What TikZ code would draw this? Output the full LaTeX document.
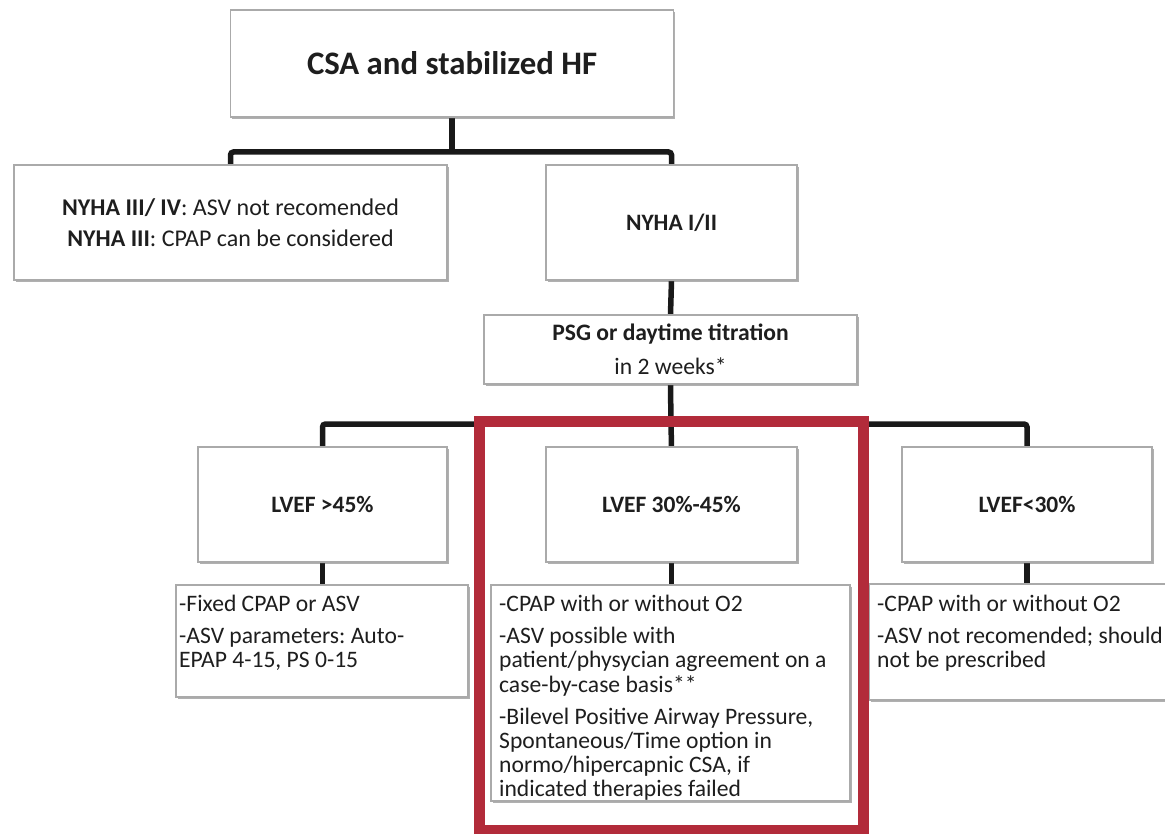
\documentclass[tikz,border=0pt]{standalone}
\usepackage{fontspec}
\setmainfont{Carlito}
\usetikzlibrary{shadows}
\definecolor{framered}{RGB}{178,43,58}
\definecolor{boxline}{RGB}{170,170,170}
\definecolor{ink}{RGB}{30,30,30}
\newcommand{\tightlines}{\lineskiplimit=-100pt\relax}
\frenchspacing
\begin{document}
\begin{tikzpicture}[x=1pt,y=-1pt,
  box/.style={draw=boxline, line width=1.2pt, fill=white, inner sep=0pt,
    drop shadow={shadow xshift=1.5pt, shadow yshift=-2pt, opacity=0.3, fill=black!60},
    text=ink, align=center},
  conn/.style={draw=black!90, line width=5.5pt, rounded corners=3pt},
  lbl/.style={font=\fontsize{24}{31}\selectfont},
  blbl/.style={font=\fontsize{23.5}{31}\selectfont\bfseries},
  note/.style={anchor=north west, inner sep=0pt, align=left, text=ink,
    font={\fontsize{23.6}{24.2}\selectfont\tightlines}},
  hilite/.style={draw=framered, line width=11pt}
]
\useasboundingbox (0,0) rectangle (1165,834);
\clip (0,0) rectangle (1165,834);

% junction points of the tree
\coordinate (j1) at (452,152);
\coordinate (j2) at (671,424);

% box outlines first, so the connectors can be placed by name
\node[box, minimum width=443pt, minimum height=107pt] (top) at (452,63.5) {};
\node[box, minimum width=433pt, minimum height=115pt] (nyhaA) at (230.5,222.5) {};
\node[box, minimum width=251pt, minimum height=115pt] (nyhaB) at (671.5,222.5) {};
\node[box, minimum width=373pt, minimum height=69pt] (psg) at (670.5,349.5) {};
\node[box, minimum width=249pt, minimum height=115pt] (lvA) at (322.5,504.5) {};
\node[box, minimum width=251pt, minimum height=115pt] (lvB) at (671.5,504.5) {};
\node[box, minimum width=250pt, minimum height=115pt] (lvC) at (1027,504.5) {};
\node[box, minimum width=292pt, minimum height=112pt] (thA) at (322,641) {};
\node[box, minimum width=359pt, minimum height=216pt] (thB) at (670.5,693) {};
\node[box, minimum width=311pt, minimum height=116pt] (thC) at (1024.5,642) {};

% connectors
\draw[conn] (top.south) -- (j1);
\draw[conn] (nyhaA.north) |- (j1) -| (nyhaB.north);
\draw[conn] (nyhaB.south) -- (psg.north);
\draw[conn] (psg.south) -- (j2);
\draw[conn] (lvA.north) |- (j2) -| (lvC.north);
\draw[conn] (j2) -- (lvB.north);
\draw[conn] (lvA.south) -- (lvA.south |- thA.north);
\draw[conn] (lvB.south) -- (lvB.south |- thB.north);
\draw[conn] (lvC.south) -- (lvC.south |- thC.north);

% boxes with their texts, on top of the connector ends
\node[box, minimum width=443pt, minimum height=107pt,
  font=\fontsize{32.8}{40}\selectfont\bfseries] (topT) at (top) {CSA and stabilized HF};
\node[box, minimum width=433pt, minimum height=115pt, lbl] (nyhaAT) at (nyhaA)
  {\textbf{NYHA III/ IV}: ASV not recomended\\ \textbf{NYHA III}: CPAP can be considered};
\node[box, minimum width=251pt, minimum height=115pt, blbl] (nyhaBT) at (nyhaB) {NYHA I/II};
\node[box, minimum width=373pt, minimum height=69pt, font=\fontsize{23.6}{34}\selectfont] (psgT) at (psg)
  {\textbf{PSG or daytime titration}\\ in 2 weeks*};
\node[box, minimum width=249pt, minimum height=115pt, blbl] (lvAT) at (lvA) {LVEF >45\%};
\node[box, minimum width=251pt, minimum height=115pt, blbl] (lvBT) at (lvB) {LVEF 30\%-45\%};
\node[box, minimum width=250pt, minimum height=115pt, blbl] (lvCT) at (lvC) {LVEF<30\%};
\node[box, minimum width=292pt, minimum height=112pt] (thAT) at (thA) {};
\node[box, minimum width=359pt, minimum height=216pt] (thBT) at (thB) {};
\node[box, minimum width=311pt, minimum height=116pt] (thCT) at (thC) {};

% therapy texts
\node[note] (txA) at (179,595) {-Fixed CPAP or ASV\\[8pt]
  -ASV parameters: Auto-\\ EPAP 4-15, PS 0-15};
\node[note] (txB) at (499,595) {-CPAP with or without O2\\[8pt]
  -ASV possible with\\ patient/physycian agreement on a\\ case-by-case basis**\\[8pt]
  -Bilevel Positive Airway Pressure,\\ Spontaneous/Time option in\\
  normo/hipercapnic CSA, if\\ indicated therapies failed};
\node[note] (txC) at (877,595) {-CPAP with or without O2\\[8pt]
  -ASV not recomended; should\\ not be prescribed};

% highlight frame round the middle branch
\draw[hilite] (479,421) rectangle (863,830);
\end{tikzpicture}
\end{document}
